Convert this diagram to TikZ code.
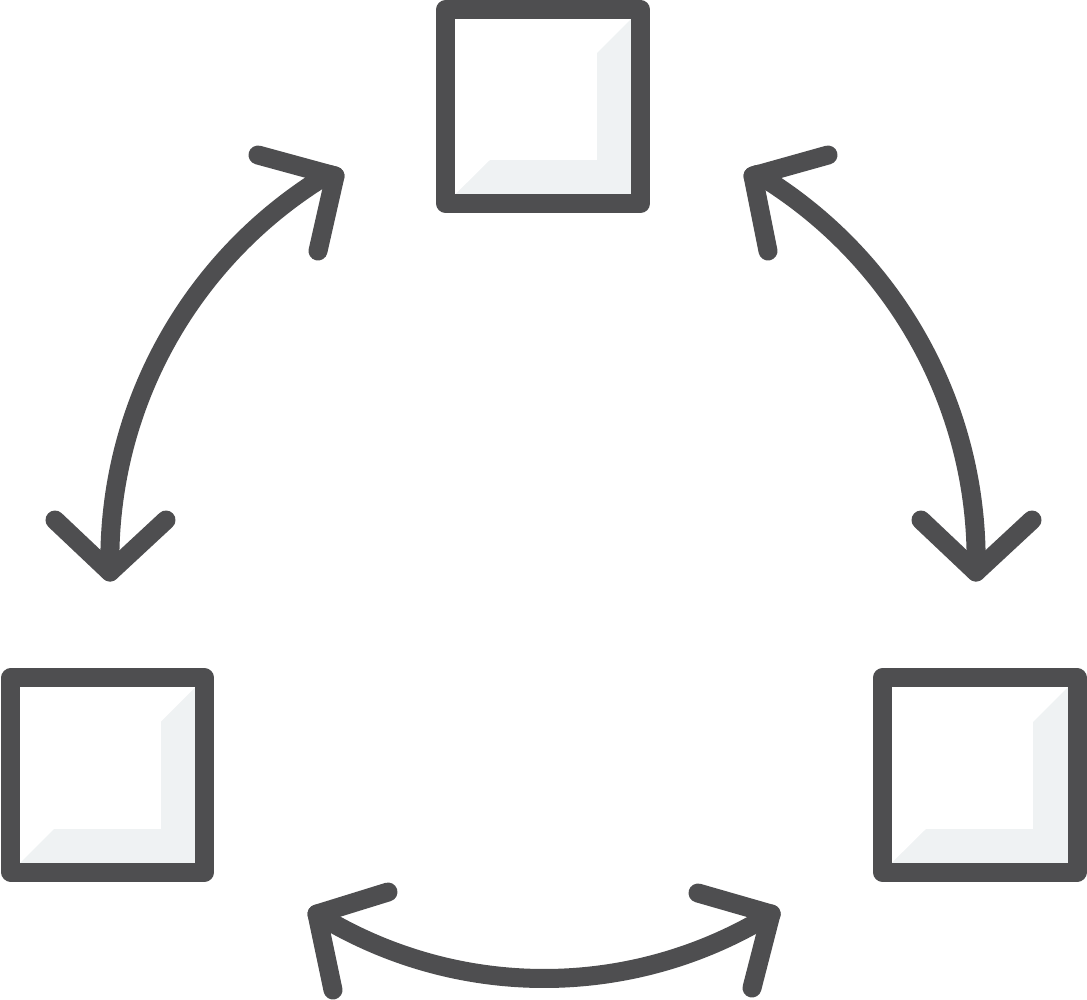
\documentclass[tikz,border=0pt]{standalone}
\definecolor{ink}{HTML}{4E4E50}
\definecolor{shade}{HTML}{EFF2F3}
\begin{document}
\begin{tikzpicture}[x=0.01cm,y=-0.01cm,
  stroke/.style={draw=ink,line width=0.19cm,line cap=round,line join=round},
  boxnode/.style={stroke,rectangle,inner sep=0pt,outer sep=0pt,fill=none},
  shadefill/.style={fill=shade,draw=none}]
\useasboundingbox (0,0) rectangle (1087,999);
% shading
\fill[shadefill] (640.5,9.5) -- (597,53) -- (597,160) -- (490,160) -- (446,203.5) -- (640.5,203.5) -- cycle;
\fill[shadefill] (204.5,678) -- (161,721.5) -- (161,829) -- (54,829) -- (11,872) -- (204.5,872) -- cycle;
\fill[shadefill] (1077,678) -- (1033,722) -- (1033,829) -- (926,829) -- (882.5,872) -- (1077,872) -- cycle;
% boxes
\node[boxnode,minimum width=1.945cm,minimum height=1.94cm] (top) at (543.25,106.5) {};
\node[boxnode,minimum width=1.935cm,minimum height=1.94cm] (left) at (107.75,775) {};
\node[boxnode,minimum width=1.945cm,minimum height=1.94cm] (right) at (979.75,775) {};
% arrow tips
\coordinate (tl) at (335,176); \coordinate (tlA) at (258,155); \coordinate (tlB) at (318,251);
\coordinate (tr) at (753,176); \coordinate (trA) at (828,155); \coordinate (trB) at (768,251);
\coordinate (bl) at (110,572); \coordinate (blA) at (55,520); \coordinate (blB) at (166,520);
\coordinate (br) at (976,572); \coordinate (brA) at (921,520); \coordinate (brB) at (1032,520);
\coordinate (dl) at (317,914); \coordinate (dlA) at (388,892); \coordinate (dlB) at (333,990);
\coordinate (dr) at (771,914); \coordinate (drA) at (698,893); \coordinate (drB) at (752,988);
% arcs
\draw[stroke] (bl) arc[start angle=181.5,end angle=121,radius=4.5cm] -- (tl);
\draw[stroke] (br) arc[start angle=-1.5,end angle=59,radius=4.5cm] -- (tr);
\draw[stroke] (dl) arc[start angle=-121.7,end angle=-58.3,radius=4.32cm] -- (dr);
% heads
\draw[stroke] (tlA) -- (tl) -- (tlB);
\draw[stroke] (trA) -- (tr) -- (trB);
\draw[stroke] (blA) -- (bl) -- (blB);
\draw[stroke] (brA) -- (br) -- (brB);
\draw[stroke] (dlA) -- (dl) -- (dlB);
\draw[stroke] (drA) -- (dr) -- (drB);
\end{tikzpicture}
\end{document}
